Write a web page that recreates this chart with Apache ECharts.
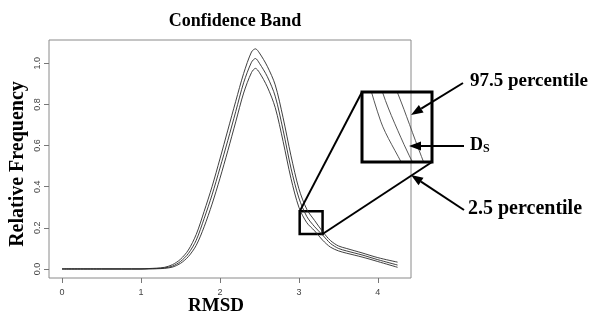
<!DOCTYPE html>
<html>
<head>
<meta charset="utf-8">
<script src="https://cdn.jsdelivr.net/npm/echarts@6/dist/echarts.min.js"></script>
<style>
  html, body { margin: 0; padding: 0; background: #fff; }
  #chart { width: 591px; height: 317px; }
</style>
</head>
<body>
<div id="chart"></div>
<script>
// RMSD grid and the three curves of the band
const rmsd   = [0, 0.5, 1.0, 1.1, 1.2, 1.3, 1.4, 1.5, 1.6, 1.7, 1.8, 1.9, 2.0, 2.1, 2.2, 2.3, 2.4, 2.45, 2.5, 2.6, 2.7, 2.8, 2.9, 3.0, 3.1, 3.2, 3.3, 3.4, 3.5, 3.6, 3.8, 4.0, 4.25];
const upper  = [0, 0, 0, 0.002, 0.004, 0.008, 0.021, 0.047, 0.092, 0.168, 0.28, 0.40, 0.535, 0.675, 0.815, 0.95, 1.055, 1.07, 1.05, 0.985, 0.895, 0.735, 0.55, 0.39, 0.29, 0.235, 0.182, 0.138, 0.112, 0.1, 0.078, 0.055, 0.033];
const median = [0, 0, 0, 0.001, 0.002, 0.005, 0.014, 0.036, 0.075, 0.14, 0.245, 0.36, 0.49, 0.625, 0.765, 0.905, 1.005, 1.023, 1.0, 0.935, 0.84, 0.675, 0.49, 0.345, 0.255, 0.205, 0.165, 0.124, 0.1, 0.088, 0.068, 0.045, 0.019];
const lower  = [0, 0, 0, 0.0005, 0.001, 0.003, 0.009, 0.027, 0.06, 0.115, 0.205, 0.315, 0.44, 0.575, 0.715, 0.855, 0.955, 0.975, 0.955, 0.885, 0.785, 0.62, 0.44, 0.30, 0.225, 0.185, 0.14, 0.106, 0.088, 0.077, 0.058, 0.036, 0.008];

const xTicks = [0, 1, 2, 3, 4];
const yTicks = [0, 0.2, 0.4, 0.6, 0.8, 1.0];

// small box on the curves, and the range shown in the enlarged inset
const zoomX = [3.01, 3.30];
const zoomY = [0.17, 0.28];
const insetX = [3.02, 3.32];
const insetY = [0.19, 0.25];

const serif = '"Liberation Serif", "Times New Roman", serif';
const lineColor = '#2a2a2a';

function pairs(ys) {
    return rmsd.map((x, i) => [x, ys[i]]);
}

const chart = echarts.init(document.getElementById('chart'));

const bands = [upper, median, lower];
let series = [];
bands.forEach((ys, k) => {
    series.push({
        type: 'line',
        xAxisIndex: 0, yAxisIndex: 0,
        data: pairs(ys),
        symbol: 'none',
        smooth: 0.3,
        lineStyle: { color: lineColor, width: 0.9 },
        markArea: k === 1 ? {
            silent: true,
            itemStyle: { color: 'rgba(0,0,0,0)', borderColor: '#000', borderWidth: 2.5 },
            data: [[{ coord: [zoomX[0], zoomY[1]] }, { coord: [zoomX[1], zoomY[0]] }]]
        } : undefined
    });
    series.push({
        type: 'line',
        xAxisIndex: 1, yAxisIndex: 1,
        data: pairs(ys),
        symbol: 'none',
        smooth: 0.3,
        clip: true,
        lineStyle: { color: '#444', width: 0.9 }
    });
});

let option = {
    animation: false,
    backgroundColor: '#fff',
    title: {
        text: 'Confidence Band',
        left: 230, top: 7,
        textAlign: 'center',
        textStyle: { fontFamily: serif, fontWeight: 'bold', fontSize: 18, color: '#000' }
    },
    grid: [
        { left: 49, top: 40, right: 180, bottom: 39, show: true, borderColor: '#8a8a8a', borderWidth: 1 },
        { left: 362, top: 92, width: 70, height: 70, show: false }
    ],
    xAxis: [
        {
            type: 'value', gridIndex: 0, min: -0.165, max: 4.42,
            axisLine: { show: false, onZero: false },
            splitLine: { show: false },
            axisTick: { show: true, length: 5, lineStyle: { color: '#777' }, customValues: xTicks },
            axisLabel: {
                customValues: xTicks, margin: 10,
                fontFamily: '"Liberation Sans", Arial, sans-serif', fontSize: 9, color: '#444'
            }
        },
        {
            type: 'value', gridIndex: 1, min: insetX[0], max: insetX[1], show: false
        }
    ],
    yAxis: [
        {
            type: 'value', gridIndex: 0, min: -0.044, max: 1.113,
            axisLine: { show: false, onZero: false },
            splitLine: { show: false },
            axisTick: { show: true, length: 5, lineStyle: { color: '#777' }, customValues: yTicks },
            axisLabel: {
                customValues: yTicks, rotate: 90, margin: 7,
                formatter: v => v.toFixed(1),
                fontFamily: '"Liberation Sans", Arial, sans-serif', fontSize: 9, color: '#444'
            }
        },
        {
            type: 'value', gridIndex: 1, min: insetY[0], max: insetY[1], show: false
        }
    ],
    series: series
};
chart.setOption(option);

// annotations: zoom connectors, inset frame, arrows and labels
const tl = chart.convertToPixel({ gridIndex: 0 }, [zoomX[0], zoomY[1]]);
const br = chart.convertToPixel({ gridIndex: 0 }, [zoomX[1], zoomY[0]]);
const insetRect = chart.getModel().getComponent('grid', 1).coordinateSystem.getRect();

function arrow(x1, y1, x2, y2) {
    const ang = Math.atan2(y2 - y1, x2 - x1);
    const len = 12, half = 4.5;
    const bx = x2 - len * Math.cos(ang), by = y2 - len * Math.sin(ang);
    const px = -Math.sin(ang) * half, py = Math.cos(ang) * half;
    return [
        { type: 'line', z: 100, shape: { x1: x1, y1: y1, x2: bx, y2: by }, style: { stroke: '#000', lineWidth: 2 } },
        { type: 'polygon', z: 100, shape: { points: [[x2, y2], [bx + px, by + py], [bx - px, by - py]] }, style: { fill: '#000' } }
    ];
}

const labelStyle = { fontFamily: serif, fontWeight: 'bold', fill: '#000' };
let graphics = [
    { type: 'line', z: 90, shape: { x1: tl[0], y1: tl[1], x2: insetRect.x, y2: insetRect.y }, style: { stroke: '#000', lineWidth: 2 } },
    { type: 'line', z: 90, shape: { x1: br[0], y1: br[1], x2: insetRect.x + insetRect.width, y2: insetRect.y + insetRect.height }, style: { stroke: '#000', lineWidth: 2 } },
    { type: 'rect', z: 95, shape: { x: insetRect.x, y: insetRect.y, width: insetRect.width, height: insetRect.height },
      style: { fill: null, stroke: '#000', lineWidth: 3 } },
    ...arrow(463, 83, 411, 115),
    ...arrow(464, 146, 409, 146),
    ...arrow(464, 210, 411, 175),
    { type: 'text', z: 100, left: 470, top: 72, style: Object.assign({ text: '97.5 percentile', fontSize: 19 }, labelStyle) },
    { type: 'text', z: 100, left: 470, top: 136, style: Object.assign({ text: 'D', fontSize: 18 }, labelStyle) },
    { type: 'text', z: 100, left: 483, top: 143, style: Object.assign({ text: 'S', fontSize: 12 }, labelStyle) },
    { type: 'text', z: 100, left: 468, top: 199, style: Object.assign({ text: '2.5 percentile', fontSize: 20 }, labelStyle) },
    { type: 'text', z: 100, left: 188, top: 297, style: Object.assign({ text: 'RMSD', fontSize: 19 }, labelStyle) },
    { type: 'text', z: 100, x: 18, y: 164, rotation: Math.PI / 2,
      style: Object.assign({ text: 'Relative Frequency', fontSize: 20, align: 'center', verticalAlign: 'middle' }, labelStyle) }
];
chart.setOption({ graphic: graphics });
</script>
</body>
</html>
